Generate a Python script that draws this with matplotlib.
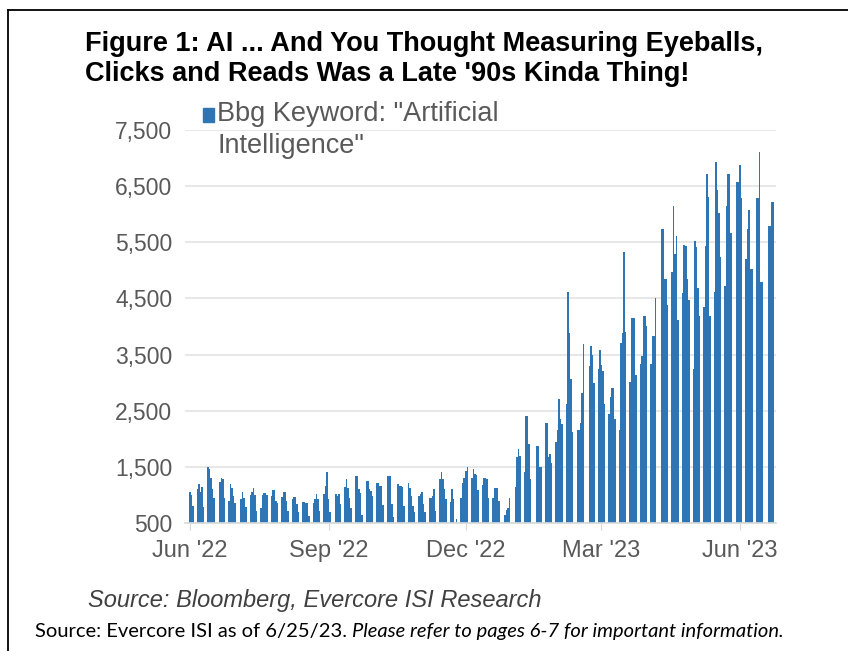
import matplotlib
matplotlib.use("Agg")
import matplotlib.pyplot as plt
import matplotlib.dates as mdates
from matplotlib.lines import Line2D
from matplotlib.patches import Rectangle
import pandas as pd

plt.rcParams["font.family"] = ["Liberation Sans", "DejaVu Sans"]

# daily counts, one row per week (Mon..Fri), None = no bar shown
first_monday = "2022-05-30"
weekly_counts = [
    [None, None, 1050, 1000, 800],
    [1100, 1200, 1050, 1150, 780],
    [1500, 1470, 1300, 1100, 950],
    [None, 1230, 1300, 1280, 950],
    [900, 1200, 1120, 980, 850],
    [None, 920, 1050, 950, 780],
    [1000, 1060, 1120, 1000, 720],
    [760, 1000, 1030, 1030, 1000],
    [980, 1080, 1080, 900, 850],
    [960, 1050, 1050, 900, 720],
    [930, 960, 960, 830, 690],
    [870, 870, 860, 860, 620],
    [860, 920, 1010, 920, 710],
    [1010, 1160, 1410, 920, 700],
    [None, 1020, 980, 1020, 830],
    [1140, 1280, 1130, 950, 770],
    [1340, 1340, 1100, 1040, 650],
    [1250, 1250, 1100, 1070, 980],
    [1220, 1220, 1160, 1160, 820],
    [1340, 1340, 1330, 830, 600],
    [1200, 1160, 1160, 1150, 800],
    [1220, 1130, 980, 800, 700],
    [980, 1010, 1060, 830, 700],
    [950, 950, 980, 1100, 720],
    [1280, 1400, 1280, 1100, 920],
    [870, 1100, 920, None, 580],
    [950, 1220, 1310, 1430, 1490],
    [1300, 1470, 1380, 1350, 1090],
    [1180, 1300, 1300, 1280, 940],
    [950, 1130, 1130, 1130, 900],
    [None, 650, 740, 760, 940],
    [None, 1150, 1680, 1820, 1700],
    [1410, 2410, 2410, 1910, 1290],
    [None, 1880, 1880, 1490, 1490],
    [2290, 2290, 1680, 1730, 1560],
    [1940, 2150, 2700, 2350, 2260],
    [2620, 4620, 3880, 3060, 2120],
    [2150, 2150, 2290, 2820, 3680],
    [None, 3290, 3650, 3500, 3000],
    [3240, 3590, 3320, 3200, 2620],
    [2440, 2740, 2910, 2910, 2350],
    [2150, 3700, 3880, 5320, 3900],
    [3020, 4160, 4160, 4150, 3130],
    [3330, 3480, 4180, 4180, 4010],
    [3330, 3830, 3830, 4500, None],
    [5730, 5730, 4850, 4850, 4380],
    [4970, 6140, 5290, 5610, 4120],
    [4590, 5460, 5430, 4850, 4470],
    [3240, 5530, 5410, 4680, 4180],
    [4350, 5430, 6720, 6310, 4180],
    [4620, 6930, 6430, 6020, 5230],
    [4730, 6140, 6720, 6720, 5670],
    [None, 6580, 6580, 6870, 6280],
    [5200, 5730, 6080, 5030, 5030],
    [6280, 6280, 7100, 4790, 4790],
    [None, 5790, 5790, 6220, 6220],
]

tick_dates = ["2022-06-01", "2022-09-01", "2022-12-01", "2023-03-01", "2023-06-01"]
tick_labels = ["Jun '22", "Sep '22", "Dec '22", "Mar '23", "Jun '23"]
y_ticks = [500, 1500, 2500, 3500, 4500, 5500, 6500, 7500]
series_name = 'Bbg Keyword: "Artificial\nIntelligence"'

dates, counts = [], []
start = pd.Timestamp(first_monday)
for k, week in enumerate(weekly_counts):
    for d, v in enumerate(week):
        if v is not None:
            dates.append(start + pd.Timedelta(days=7 * k + d))
            counts.append(v)

W, H = 848, 651
fig = plt.figure(figsize=(W / 100, H / 100), dpi=100)
ax = fig.add_axes([185 / W, 1 - 523 / H, (776 - 185) / W, (523 - 130) / H])

blue = "#2e75b6"
ax.bar(dates, counts, width=1.0, color=blue, linewidth=0)

x0 = mdates.date2num(pd.Timestamp("2022-06-01"))
px_day = (740 - 190) / 365
ax.set_xlim(x0 - (190 - 185) / px_day, x0 + (776 - 190) / px_day)
ax.set_ylim(500, 7500)

ax.set_xticks([mdates.date2num(pd.Timestamp(d)) for d in tick_dates])
ax.set_xticklabels(tick_labels)
ax.set_yticks(y_ticks)
ax.set_yticklabels([f"{v:,}" for v in y_ticks])

ax.grid(axis="y", color="#e3e3e3", linewidth=1.2)
ax.set_axisbelow(True)
for s in ["top", "right", "left"]:
    ax.spines[s].set_visible(False)
ax.spines["bottom"].set_color("#d9d9d9")
ax.spines["bottom"].set_linewidth(1.2)
ax.tick_params(axis="y", length=0, pad=9, labelsize=16.5, labelcolor="#595959")
ax.tick_params(axis="x", length=5, color="#d9d9d9", pad=7, labelsize=17, labelcolor="#595959")

# legend: square beside the first line of the series name
fig.add_artist(Rectangle((203 / W, 1 - 122 / H), 11 / W, 14 / H, color=blue,
                         transform=fig.transFigure))
fig.text(217 / W, 1 - 101 / H, series_name, fontsize=19.5, color="#595959",
         va="top", ha="left", linespacing=1.3)

fig.text(85 / W, 1 - 31 / H,
         "Figure 1: AI ... And You Thought Measuring Eyeballs,\nClicks and Reads Was a Late '90s Kinda Thing!",
         fontsize=19.5, fontweight="bold", va="top", ha="left", linespacing=1.2)
fig.text(88 / W, 1 - 600 / H, "Source: Bloomberg, Evercore ISI Research",
         fontsize=17, style="italic", color="#404040", va="center", ha="left")

foot = fig.text(35 / W, 1 - 632 / H, "Source: Evercore ISI as of 6/25/23. ",
                fontsize=14.5, va="center", ha="left", family=["Lato", "DejaVu Sans"])
fig.canvas.draw()
bb = foot.get_window_extent()
fig.text(bb.x1 / W, 1 - 632 / H, "Please refer to pages 6-7 for important information.",
         fontsize=14.5, style="italic", va="center", ha="left", family=["Lato", "DejaVu Sans"])

fig.add_artist(Line2D([8 / W, 1], [1 - 10 / H, 1 - 10 / H], color="black", linewidth=1.3))
fig.add_artist(Line2D([8 / W, 8 / W], [0, 1 - 10 / H], color="black", linewidth=1.3))

fig.savefig("out.png", dpi=100)
